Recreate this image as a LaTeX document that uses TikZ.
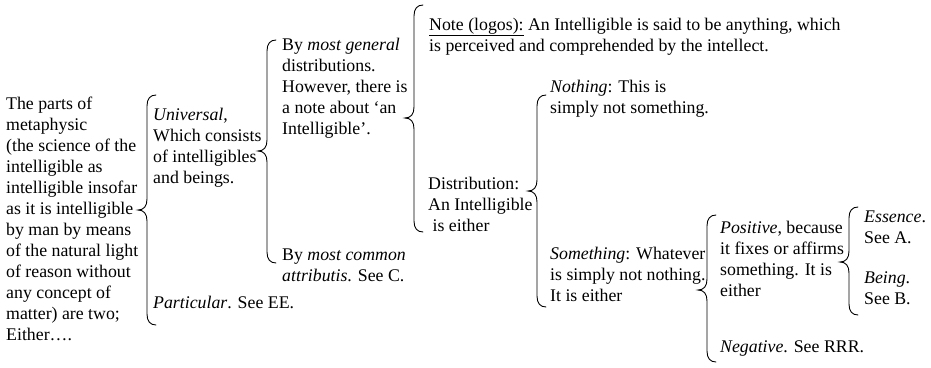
\documentclass[tikz,border=0pt]{standalone}
\usepackage{fontspec}
\setmainfont{Liberation Serif}
\newcommand{\brc}[4]{%
  \draw[bracestroke] ({#1+18},{#2}) .. controls ({#1+12},{#2}) and ({#1+9},{#2+4}) .. ({#1+9},{#2+11})
    -- ({#1+9},{#4-11}) .. controls ({#1+9},{#4-4}) and ({#1+6},{#4}) .. ({#1},{#4})
    .. controls ({#1+6},{#4}) and ({#1+9},{#4+4}) .. ({#1+9},{#4+11})
    -- ({#1+9},{#3-11}) .. controls ({#1+9},{#3-4}) and ({#1+12},{#3}) .. ({#1+18},{#3});}
\begin{document}
\begin{tikzpicture}[x=1pt,y=-1pt,
  txt/.style={anchor=base west,inner sep=0pt,font=\fontsize{17.8pt}{21pt}\selectfont},
  bracestroke/.style={line width=0.9pt,line cap=round}]
\fill[white] (0,0) rectangle (931,367);
\useasboundingbox (0,0) rectangle (931,367);
\node[txt] (root) at (6,109) {\begin{tabular}[t]{@{}l@{}}The parts of\\metaphysic\\(the science of the\\intelligible as\\intelligible insofar\\as it is intelligible\\by man by means\\of the natural light\\of reason without\\any concept of\\matter) are two;\\Either….\end{tabular}};
\node[txt] (univ) at (153,120) {\begin{tabular}[t]{@{}l@{}}\textit{Universal},\\Which consists\\of intelligibles\\and beings.\end{tabular}};
\node[txt] (part) at (153,308) {\textit{Particular}. See EE.};
\node[txt] (gen) at (282,50) {\begin{tabular}[t]{@{}l@{}}By \textit{most general}\\distributions.\\However, there is\\a note about ‘an\\Intelligible’.\end{tabular}};
\node[txt] (comm) at (282,260) {\begin{tabular}[t]{@{}l@{}}By \textit{most common}\\\textit{attributis}. See C.\end{tabular}};
\node[txt] (note) at (429,30) {\begin{tabular}[t]{@{}l@{}}\underline{Note (logos):} An Intelligible is said to be anything, which\\is perceived and comprehended by the intellect.\end{tabular}};
\node[txt] (dist) at (428,189) {\begin{tabular}[t]{@{}l@{}}Distribution:\\An Intelligible\\\hspace*{4.4pt}is either\end{tabular}};
\node[txt] (noth) at (550,92) {\begin{tabular}[t]{@{}l@{}}\textit{Nothing}: This is\\simply not something.\end{tabular}};
\node[txt] (some) at (550,259) {\begin{tabular}[t]{@{}l@{}}\textit{Something}: Whatever\\is simply not nothing.\\It is either\end{tabular}};
\node[txt] (pos) at (720,233) {\begin{tabular}[t]{@{}l@{}}\textit{Positive}, because\\it fixes or affirms\\something. It is\\either\end{tabular}};
\node[txt] (neg) at (720,352) {\textit{Negative}. See RRR.};
\node[txt] (ess) at (864,222) {\begin{tabular}[t]{@{}l@{}}\textit{Essence}.\\See A.\end{tabular}};
\node[txt] (being) at (864,283) {\begin{tabular}[t]{@{}l@{}}\textit{Being}.\\See B.\end{tabular}};
\brc{138}{95}{325}{210}
\brc{258}{40}{263}{151}
\brc{405}{5}{232}{118}
\brc{528}{95}{307}{191}
\brc{698}{215}{362}{290}
\brc{840}{207}{315}{262}
\end{tikzpicture}
\end{document}
